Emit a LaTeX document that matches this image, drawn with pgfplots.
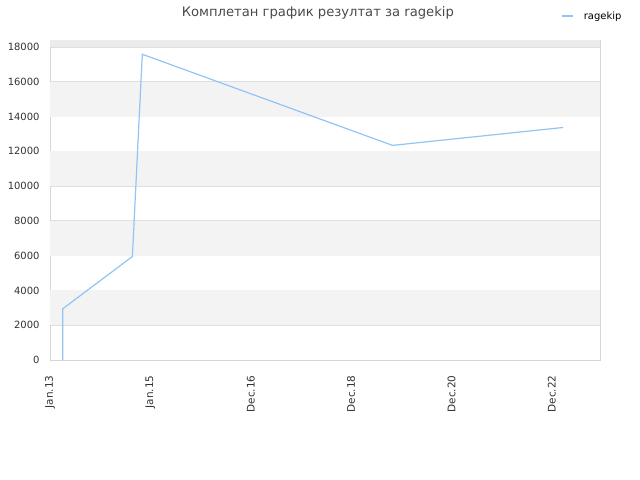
\documentclass[border=0pt]{standalone}
\usepackage{fontspec}
\setmainfont{DejaVu Sans}
\usepackage{pgfplots}
\pgfplotsset{compat=1.18}

\definecolor{linecol}{HTML}{92C4F4}
\definecolor{bandcol}{HTML}{F3F3F3}
\definecolor{topband}{HTML}{ECECEC}
\definecolor{gridcol}{HTML}{DFDFDF}
\definecolor{framecol}{HTML}{D6D6D6}
\definecolor{txtcol}{HTML}{333333}
\definecolor{titlecol}{HTML}{4A4A4A}

% months since Jan 2013, score
\pgfplotstableread{
x y
3.03 0
3.03 2940
19.7 5950
22.07 17580
81.9 12340
122.7 13370
}\scores

\begin{document}
\begin{tikzpicture}
\fill[white, use as bounding box] (-50bp,-120bp) rectangle (590bp,360bp);
\begin{axis}[
at={(0,0)}, anchor=south west,
scale only axis,
width=550bp, height=320bp,
xmin=0, xmax=131.5,
ymin=0, ymax=18400,
axis line style={framecol},
major tick length=0pt,
xtick={0,24,48,72,96,120},
xticklabels={Jan.13,Jan.15,Dec.16,Dec.18,Dec.20,Dec.22},
ytick={0,2000,...,18000},
scaled y ticks=false,
/pgf/number format/1000 sep={},
/pgf/number format/assume math mode=true,
ticklabel style={text=txtcol},
xticklabel style={rotate=90, anchor=east, font=\fontsize{10.5}{11}\selectfont},
yticklabel style={font=\fontsize{10}{11}\selectfont},
xticklabel shift=12bp,
yticklabel shift=7bp,
ymajorgrids,
grid style={gridcol, line width=0.8bp},
title={Комплетан график резултат за ragekip},
title style={at={(rel axis cs:0.487,1.065)}, anchor=center, yshift=0pt, font=\fontsize{13.2}{14}\selectfont, text=titlecol},
legend style={draw=none, fill=none, at={(rel axis cs:0.93,1.075)}, anchor=west, font=\fontsize{10}{11}\selectfont, inner sep=0pt},
legend image code/.code={\draw[#1] (0bp,0bp) -- (11bp,0bp); \path (19bp,0bp);},
]
\fill[topband] (axis cs:0,18000) rectangle (axis cs:131.5,18400);
\fill[bandcol] (axis cs:0,14000) rectangle (axis cs:131.5,16000);
\fill[bandcol] (axis cs:0,10000) rectangle (axis cs:131.5,12000);
\fill[bandcol] (axis cs:0,6000) rectangle (axis cs:131.5,8000);
\fill[bandcol] (axis cs:0,2000) rectangle (axis cs:131.5,4000);
\addplot[linecol, line width=1.2bp] table[x=x, y=y] {\scores};
\addlegendentry{ragekip}
\end{axis}
\end{tikzpicture}
\end{document}
